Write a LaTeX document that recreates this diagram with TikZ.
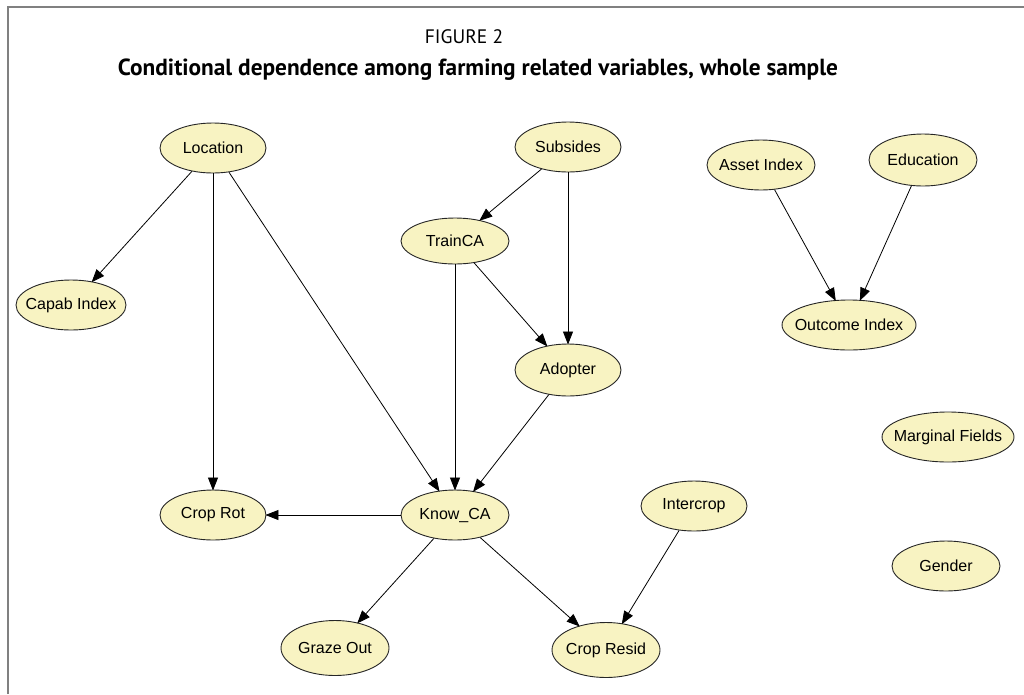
\documentclass[tikz,border=0pt]{standalone}
\usepackage{fontspec}
\setmainfont{Liberation Sans}
\newfontfamily\titlefont{PT Sans}
\usetikzlibrary{shapes.geometric,arrows.meta}
\definecolor{nodefill}{HTML}{F8F3C2}
\definecolor{framegray}{HTML}{808080}
\tikzset{
  var/.style={ellipse, draw=black!85, line width=0.9pt, fill=nodefill,
    inner sep=0pt, minimum width=106pt, minimum height=50pt,
    label={[font=\fontsize{16}{18}\selectfont, inner sep=0pt]center:\varname}},
  dep/.style={draw=black, line width=0.8pt,
    -{Triangle[length=13pt,width=10pt]}, shorten >=-1pt},
}
% place an ellipse with a fixed size and its name centred inside it
\newcommand\varnode[4][]{%
  \def\varname{#4}%
  \node[var, #1] (#2) at #3 {};}
\begin{document}
\begin{tikzpicture}[x=1pt,y=-1pt]
  \useasboundingbox (0,0) rectangle (1024,694);
  % outer frame (top and left rules)
  \draw[framegray, line width=2pt] (8,694) -- (8,7) -- (1024,7);

  % headings
  \node (fig) at (464,37) {\titlefont\fontsize{19.5}{22}\selectfont FIGURE 2};
  \node (ttl) at (478,70) {\resizebox{720pt}{!}{\titlefont\bfseries\fontsize{20}{24}\selectfont Conditional dependence among farming related variables, whole sample}};

  % variables
  \varnode{loc}{(213,148)}{Location}
  \varnode{sub}{(568,147)}{Subsides}
  \varnode[minimum width=108pt, minimum height=46pt]{train}{(455,241)}{TrainCA}
  \varnode[minimum width=110pt]{capab}{(71,305)}{Capab Index}
  \varnode[minimum width=108pt]{asset}{(761,165)}{Asset Index}
  \varnode[minimum width=108pt, minimum height=52pt]{edu}{(923,160)}{Education}
  \varnode[minimum width=134pt]{outc}{(849,325)}{Outcome Index}
  \varnode[minimum height=52pt]{adopt}{(568,370)}{Adopter}
  \varnode[minimum width=132pt]{marg}{(948,437)}{Marginal Fields}
  \varnode{crot}{(213,515)}{Crop Rot}
  \varnode[minimum width=108pt]{know}{(455,515)}{Know\_CA}
  \varnode{inter}{(694,506)}{Intercrop}
  \varnode[minimum width=108pt]{gender}{(946,566)}{Gender}
  \varnode[minimum width=108pt, minimum height=55pt]{graze}{(335,648)}{Graze Out}
  \varnode[minimum width=108pt, minimum height=55pt]{resid}{(606,650)}{Crop Resid}

  % dependencies
  \draw[dep] (loc) -- (capab);
  \draw[dep] (loc) -- (crot);
  \draw[dep] (loc) -- (know);
  \draw[dep] (sub) -- (train);
  \draw[dep] (sub) -- (adopt);
  \draw[dep] (train) -- (adopt);
  \draw[dep] (train) -- (know);
  \draw[dep] (adopt) -- (know);
  \draw[dep] (know) -- (crot);
  \draw[dep] (know) -- (graze);
  \draw[dep] (know) -- (resid);
  \draw[dep] (inter) -- (resid);
  \draw[dep] (asset) -- (outc);
  \draw[dep] (edu) -- (outc);
\end{tikzpicture}
\end{document}
